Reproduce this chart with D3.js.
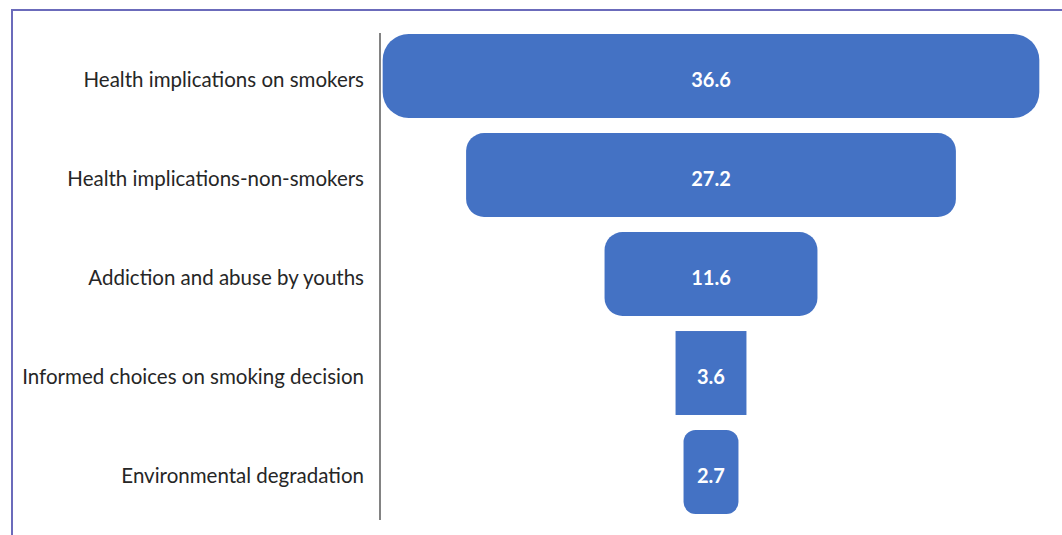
<!DOCTYPE html>
<html>
<head>
<meta charset="utf-8">
<script src="https://cdn.jsdelivr.net/npm/d3@7"></script>
<style>
  html, body { margin: 0; padding: 0; background: #ffffff; }
  svg { display: block; }
</style>
</head>
<body>
<svg id="chart" width="1062" height="535"></svg>
<script>
// Reasons cited, share of respondents (%)
const categories = [
  "Health implications on smokers",
  "Health implications-non-smokers",
  "Addiction and abuse by youths",
  "Informed choices on smoking decision",
  "Environmental degradation"
];
const values = [36.6, 27.2, 11.6, 3.6, 2.7];

// corner rounding of each funnel segment, top to bottom
const cornerRadii = [26, 18, 18, 0, 12];

const svg = d3.select("#chart");
const W = 1062, H = 535;

// outer frame
svg.append("rect")
  .attr("x", 12).attr("y", 10)
  .attr("width", W + 20).attr("height", H + 20)
  .attr("fill", "none")
  .attr("stroke", "#6b6bbb")
  .attr("stroke-width", 2);

const axisX = 380;
const centerX = 711;

const y = d3.scaleBand()
  .domain(categories)
  .range([34, 514])
  .paddingInner(0.152)
  .paddingOuter(0);

// segment width grows with the value
const w = d3.scaleLinear()
  .domain([0, d3.max(values)])
  .range([7, 7 + 17.75 * d3.max(values)]);

const data = categories.map((c, i) => ({ c, v: values[i], r: cornerRadii[i] }));

// funnel segments
svg.append("g").selectAll("rect")
  .data(data)
  .join("rect")
  .attr("x", d => centerX - w(d.v) / 2)
  .attr("y", d => y(d.c))
  .attr("width", d => w(d.v))
  .attr("height", y.bandwidth())
  .attr("rx", d => d.r)
  .attr("ry", d => d.r)
  .attr("fill", "#4472c4");

// value labels
svg.append("g").selectAll("text")
  .data(data)
  .join("text")
  .attr("x", centerX)
  .attr("y", d => y(d.c) + y.bandwidth() / 2 + 3)
  .attr("text-anchor", "middle")
  .attr("dominant-baseline", "central")
  .attr("font-family", "Lato, 'Open Sans', sans-serif")
  .attr("font-weight", "bold")
  .attr("font-size", 20)
  .attr("fill", "#ffffff")
  .text(d => d.v.toFixed(1));

// vertical category axis
const axis = d3.axisLeft(y).tickSize(0).tickPadding(16);
const gAxis = svg.append("g")
  .attr("transform", `translate(${axisX},0)`)
  .call(axis);
gAxis.select(".domain").remove();
gAxis.selectAll("text")
  .attr("font-family", "Lato, 'Open Sans', sans-serif")
  .attr("font-size", 20.5)
  .attr("fill", "#262626")
  .attr("dy", "0.55em");

svg.append("line")
  .attr("x1", axisX).attr("x2", axisX)
  .attr("y1", 33).attr("y2", 520)
  .attr("stroke", "#404040")
  .attr("stroke-width", 1.3);
</script>
</body>
</html>
